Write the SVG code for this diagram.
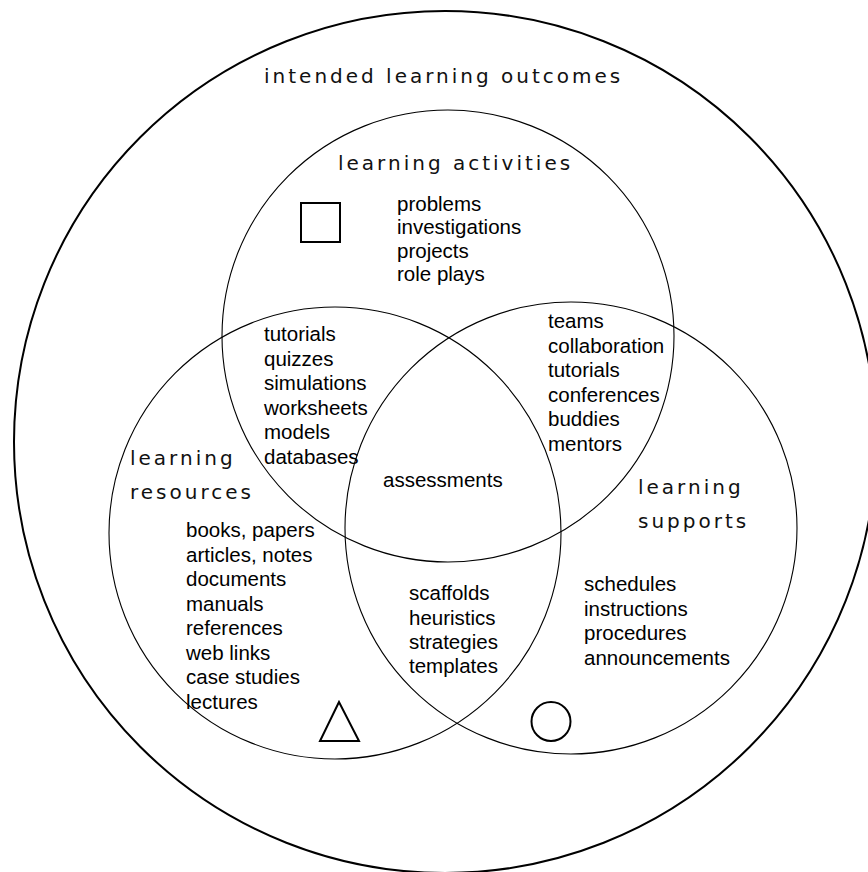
<svg xmlns="http://www.w3.org/2000/svg" width="868" height="872" viewBox="0 0 868 872">
<style>
.ring{fill:none;stroke:#000;stroke-width:1.1}
.outer{fill:none;stroke:#000;stroke-width:2}
.sym{fill:none;stroke:#000;stroke-width:2}
.big{font-family:"DejaVu Sans",sans-serif;font-size:20px;letter-spacing:3px;fill:#111}
.txt{font-family:"Liberation Sans",Arial,sans-serif;font-size:20.5px;fill:#000}
</style>
<rect width="868" height="872" fill="#fff"/>
<g id="outcomes">
<circle class="outer" cx="445" cy="442" r="431"/>
<text class="big" x="264" y="83">intended learning outcomes</text>
</g>
<g id="activities">
<circle class="ring" cx="448" cy="336" r="226"/>
<text class="big" x="338" y="170">learning activities</text>
<rect class="sym" x="301" y="203" width="39" height="39"/>
<text class="txt" x="397" y="210.5">problems</text>
<text class="txt" x="397" y="234">investigations</text>
<text class="txt" x="397" y="257.5">projects</text>
<text class="txt" x="397" y="281">role plays</text>
</g>
<g id="resources">
<circle class="ring" cx="335" cy="533" r="226"/>
<text class="big" x="130" y="465">learning</text>
<text class="big" x="130" y="499">resources</text>
<text class="txt" x="186" y="537">books, papers</text>
<text class="txt" x="186" y="561.5">articles, notes</text>
<text class="txt" x="186" y="586">documents</text>
<text class="txt" x="186" y="610.5">manuals</text>
<text class="txt" x="186" y="635">references</text>
<text class="txt" x="186" y="659.5">web links</text>
<text class="txt" x="186" y="684">case studies</text>
<text class="txt" x="186" y="708.5">lectures</text>
<polygon class="sym" points="339,702 320,741 359,741"/>
</g>
<g id="supports">
<circle class="ring" cx="571" cy="528" r="226"/>
<text class="big" x="638" y="494">learning</text>
<text class="big" x="638" y="528">supports</text>
<text class="txt" x="584" y="591">schedules</text>
<text class="txt" x="584" y="615.5">instructions</text>
<text class="txt" x="584" y="640">procedures</text>
<text class="txt" x="584" y="664.5">announcements</text>
<circle class="sym" cx="551" cy="721.5" r="19.5"/>
</g>
<g id="activities-resources">
<text class="txt" x="264" y="341">tutorials</text>
<text class="txt" x="264" y="365.5">quizzes</text>
<text class="txt" x="264" y="390">simulations</text>
<text class="txt" x="264" y="414.5">worksheets</text>
<text class="txt" x="264" y="439">models</text>
<text class="txt" x="264" y="463.5">databases</text>
</g>
<g id="activities-supports">
<text class="txt" x="548" y="328">teams</text>
<text class="txt" x="548" y="352.5">collaboration</text>
<text class="txt" x="548" y="377">tutorials</text>
<text class="txt" x="548" y="401.5">conferences</text>
<text class="txt" x="548" y="426">buddies</text>
<text class="txt" x="548" y="450.5">mentors</text>
</g>
<g id="all-three">
<text class="txt" x="383" y="487">assessments</text>
</g>
<g id="resources-supports">
<text class="txt" x="409" y="600">scaffolds</text>
<text class="txt" x="409" y="624.5">heuristics</text>
<text class="txt" x="409" y="649">strategies</text>
<text class="txt" x="409" y="673">templates</text>
</g>
<g id="connectors"/>
</svg>
